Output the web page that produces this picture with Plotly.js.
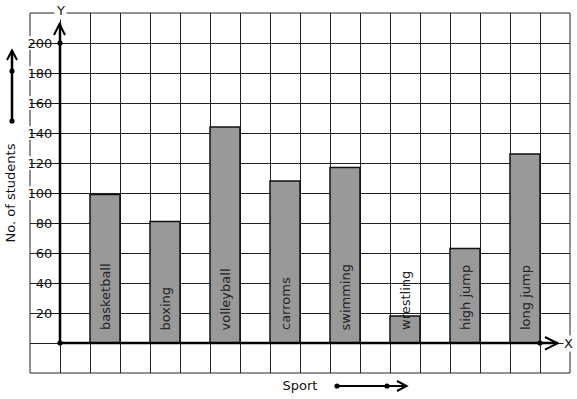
<!DOCTYPE html>
<html><head><meta charset="utf-8">
<script src="https://cdn.plot.ly/plotly-3.0.1.min.js"></script>
<style>html,body{margin:0;padding:0;background:#fff;}</style>
</head><body>
<div id="chart" style="width:577px;height:399px;"></div>
<script>
// ---- data ----
const sports = ["basketball", "boxing", "volleyball", "carroms", "swimming", "wrestling", "high jump", "long jump"];
const students = [99, 81, 144, 108, 117, 18, 63, 126];
const yTickValues = [20, 40, 60, 80, 100, 120, 140, 160, 180, 200];
const yTickLabels = ["20", "40", "60", "80", "100", "120", "140", "160", "180", "200"];
const xGridValues = [-1, 0, 1, 2, 3, 4, 5, 6, 7, 8, 9, 10, 11, 12, 13, 14, 15, 16, 17];
const xTitle = "Sport";
const yTitle = "No. of students";

// ---- geometry helpers (decoration only) ----
const W = 577, H = 399, L = 30, R = 7, T = 13, B = 26;
const pw = W - L - R, ph = H - T - B;
const px = x => (x - L) / pw;
const py = y => (H - B - y) / ph;
const FONT = "DejaVu Sans";
const INK = "#111";

const xPos = sports.map((s, i) => 1.5 + 2 * i);

const trace = {
  type: "bar",
  x: xPos,
  y: students,
  width: 1,
  marker: {color: "#999999", line: {color: INK, width: 1.5}},
  hoverinfo: "skip",
  showlegend: false
};

const shapes = [];
// plot border
shapes.push({type: "rect", xref: "paper", yref: "paper", x0: 0, x1: 1, y0: 0, y1: 1,
  line: {color: "#222", width: 1}, fillcolor: "rgba(0,0,0,0)", layer: "between"});
// white boxes behind y tick labels (break grid lines)
yTickValues.forEach((v, i) => {
  const t = yTickLabels[i];
  if (!t) return;
  const w = t.length * 8.2 + 1;
  shapes.push({type: "rect", xref: "paper", yref: "y", x0: px(54 - w), x1: px(54.5), y0: v - 4.5, y1: v + 4.5,
    line: {width: 0}, fillcolor: "#fff", layer: "between"});
});
// thick axes
shapes.push({type: "line", xref: "x", yref: "y", x0: 0, x1: 16.6, y0: 0, y1: 0, line: {color: "#000", width: 2.5}});
shapes.push({type: "line", xref: "x", yref: "y", x0: 0, x1: 0, y0: 0, y1: 213, line: {color: "#000", width: 2.5}});
function pathPx(pts) {
  return pts.map((p, i) => (i ? "L" : "M") + px(p[0]).toFixed(5) + "," + py(p[1]).toFixed(5)).join(" ");
}
function chev(pts) {
  shapes.push({type: "path", xref: "paper", yref: "paper", path: pathPx(pts), line: {color: "#000", width: 2}});
}
// arrow heads on axes
chev([[545, 337], [557.5, 343.3], [545, 349.6]]);
chev([[54, 35], [59.5, 24], [65, 35]]);
// left decoration arrow
shapes.push({type: "line", xref: "paper", yref: "paper", x0: px(12), x1: px(12), y0: py(121), y1: py(51), line: {color: "#000", width: 2.5}});
chev([[7, 60], [12, 50.5], [17, 60]]);
// bottom decoration arrow
shapes.push({type: "line", xref: "paper", yref: "paper", x0: px(337), x1: px(406), y0: py(386), y1: py(386), line: {color: "#000", width: 2}});
chev([[397, 381], [406.5, 386], [397, 391]]);
// dots
function dot(xref, xa, yref, ya) {
  shapes.push({type: "circle", xref: xref, yref: yref, xsizemode: "pixel", ysizemode: "pixel",
    xanchor: xa, yanchor: ya, x0: -2.6, x1: 2.6, y0: -2.6, y1: 2.6,
    fillcolor: "#000", line: {color: "#000", width: 0}});
}
dot("x", 0, "y", 0);
dot("x", 0, "y", 200);
dot("x", 16, "y", 0);
dot("paper", px(12), "paper", py(121));
dot("paper", px(12), "paper", py(71));
dot("paper", px(337), "paper", py(386));
dot("paper", px(387), "paper", py(386));

const annotations = sports.map((s, i) => ({
  x: xPos[i], y: 7, xref: "x", yref: "y", text: s, showarrow: false,
  textangle: -90, xanchor: "center", yanchor: "bottom",
  font: {family: FONT, size: 13, color: "#222"}
}));
annotations.push({x: 0, y: 1, xref: "x", yref: "paper", yshift: 3, text: "Y", showarrow: false,
  xanchor: "center", yanchor: "middle", bgcolor: "#fff", borderpad: 1, font: {family: FONT, size: 13, color: INK}});
annotations.push({x: px(568.5), y: 0, xref: "paper", yref: "y", text: "X", showarrow: false,
  xanchor: "center", yanchor: "middle", bgcolor: "#fff", borderpad: 0, font: {family: FONT, size: 13, color: INK}});

const layout = {
  width: W, height: H,
  margin: {l: L, r: R, t: T, b: B, pad: 0},
  paper_bgcolor: "#fff", plot_bgcolor: "#fff",
  font: {family: FONT, size: 13, color: INK},
  showlegend: false,
  xaxis: {range: [-1, 17], tickmode: "array", tickvals: xGridValues, showticklabels: false, ticks: "",
    showgrid: true, gridcolor: "#222", gridwidth: 1, zeroline: false, showline: false, fixedrange: true,
    title: {text: xTitle, font: {family: FONT, size: 13, color: INK}, standoff: 7}},
  yaxis: {range: [-20, 220], tickmode: "array", tickvals: yTickValues, ticktext: yTickLabels,
    ticks: "outside", ticklen: 5, tickcolor: INK, tickwidth: 1,
    anchor: "free", position: 30 / pw, side: "left",
    showgrid: true, gridcolor: "#222", gridwidth: 1, zeroline: false, showline: false, fixedrange: true,
    minor: {tick0: 0, dtick: 20, showgrid: true, gridcolor: "#222", gridwidth: 1, ticks: ""},
    tickfont: {family: FONT, size: 13, color: INK},
    title: {text: yTitle, font: {family: FONT, size: 13, color: INK}, standoff: 8}},
  shapes: shapes,
  annotations: annotations,
  bargap: 0
};

Plotly.newPlot("chart", [trace], layout, {staticPlot: true, displayModeBar: false});
</script>
</body></html>
